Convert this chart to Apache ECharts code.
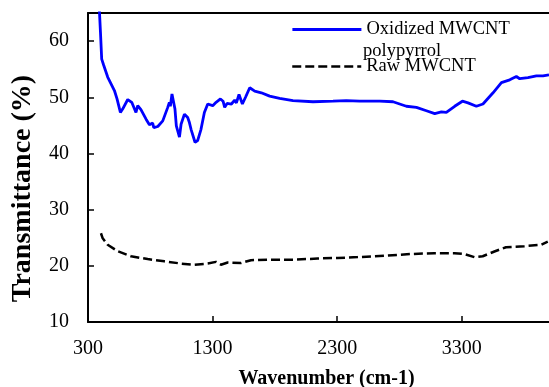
<!DOCTYPE html>
<html>
<head>
<meta charset="utf-8">
<script src="https://cdn.jsdelivr.net/npm/echarts@6/dist/echarts.min.js"></script>
<style>
  html, body { margin: 0; padding: 0; background: #fff; }
  #chart { width: 549px; height: 387px; }
</style>
</head>
<body>
<div id="chart"></div>
<script>
// FTIR spectra
const wavenumberOx = [388, 400, 410, 426, 458, 512, 533, 560, 578, 619, 651, 685, 699, 725, 766, 793, 819, 828, 860, 900,
  940, 953, 961, 974, 988, 998, 1009, 1020, 1034, 1047, 1074, 1100, 1114, 1127, 1141, 1159, 1180, 1207, 1234, 1261,
  1301, 1328, 1363, 1384, 1397, 1416, 1451, 1477, 1491, 1512, 1539, 1566, 1598, 1638, 1691, 1758, 1838, 1945, 2106, 2266,
  2373, 2480, 2641, 2748, 2855, 2936, 3016, 3083, 3136, 3176, 3243, 3305, 3350, 3417, 3470, 3551, 3618, 3685, 3738, 3765,
  3831, 3899, 3952, 4000];
const transmittanceOx = [67, 61.6, 56.8, 55.7, 53.6, 51.2, 49.7, 47.3, 47.9, 49.6, 49.1, 47.3, 48.5, 47.8, 46.1, 45.1, 45.4, 44.6, 44.8, 45.8,
  48.2, 49.1, 48.4, 50.6, 50.3, 47.9, 44.9, 45.2, 42.9, 45.2, 47.0, 46.4, 45.5, 44.3, 44.0, 42.0, 42.3, 44.3, 47.3, 48.8,
  48.5, 49.1, 49.7, 49.3, 48.2, 48.9, 48.8, 49.5, 49.0, 50.5, 48.8, 50.1, 51.7, 51.1, 50.8, 50.2, 49.8, 49.4, 49.2, 49.3,
  49.4, 49.3, 49.3, 49.2, 48.4, 48.2, 47.6, 47.1, 47.4, 47.3, 48.4, 49.3, 49.0, 48.4, 48.8, 50.8, 52.6, 53.1, 53.7, 53.3,
  53.5, 53.8, 53.8, 54.0];

const wavenumberRaw = [404, 418, 458, 538, 645, 779, 913, 1047, 1154, 1261, 1327, 1367, 1421, 1528, 1608, 1769, 1956, 2143,
  2304, 2465, 2679, 2892, 3080, 3241, 3321, 3401, 3468, 3562, 3655, 3803, 3936, 3990];
const transmittanceRaw = [25.8, 24.9, 23.75, 22.6, 21.7, 21.2, 20.8, 20.4, 20.2, 20.4, 20.7, 20.2, 20.6, 20.5, 21.0, 21.1, 21.1, 21.3,
  21.4, 21.55, 21.8, 22.1, 22.25, 22.25, 22.1, 21.55, 21.7, 22.55, 23.3, 23.5, 23.75, 24.3];

const seriesNames = ['Oxidized MWCNT polypyrrol', 'Raw MWCNT'];

const font = 'Liberation Serif';
const axisCommon = {
  axisLine: { lineStyle: { color: '#000', width: 2 } },
  axisTick: { inside: true, length: 6, lineStyle: { color: '#000', width: 1.5 } },
  splitLine: { show: false },
};
const legendCommon = {
  left: 286,
  itemWidth: 69,
  itemHeight: 12,
  itemGap: 0,
  itemStyle: { opacity: 0 },
  textStyle: { fontFamily: font, fontSize: 18.5, color: '#000' },
};

const chart = echarts.init(document.getElementById('chart'));
chart.setOption({
  animation: false,
  grid: { left: 88, right: 0, top: 13, bottom: 65, outerBoundsMode: 'none', containLabel: false },
  xAxis: [
    {
      ...axisCommon,
      type: 'value',
      min: 300,
      max: 4000,
      interval: 1000,
      axisLabel: {
        showMaxLabel: false, margin: 17, fontSize: 20, color: '#000', fontFamily: font,
        formatter: (v) => String(v),
      },
      name: 'Wavenumber (cm-1)',
      nameLocation: 'middle',
      nameGap: 47,
      nameTextStyle: { fontFamily: font, fontWeight: 'bold', fontSize: 20, color: '#000', padding: [0, 0, 0, 16] },
    },
    {
      type: 'value',
      position: 'top',
      min: 300,
      max: 4000,
      axisLine: { show: true, lineStyle: { color: '#000', width: 2 } },
      axisTick: { show: false },
      axisLabel: { show: false },
      splitLine: { show: false },
    },
  ],
  yAxis: {
    ...axisCommon,
    type: 'value',
    min: 10,
    max: 65,
    interval: 10,
    axisLabel: { showMaxLabel: false, margin: 19, fontSize: 20, color: '#000', fontFamily: font },
    name: 'Transmittance (%)',
    nameLocation: 'middle',
    nameGap: 51,
    nameTextStyle: { fontFamily: font, fontWeight: 'bold', fontSize: 28, color: '#000', padding: [0, 42, 0, 0] },
  },
  legend: [
    {
      ...legendCommon, data: [seriesNames[0]], top: 15, formatter: () => 'Oxidized MWCNT',
      lineStyle: { width: 2.8 },
    },
    { ...legendCommon, data: [seriesNames[1]], top: 52, lineStyle: { width: 2.5 } },
  ],
  graphic: [
    {
      type: 'text',
      left: 363,
      top: 42,
      style: { text: 'polypyrrol', font: '18.5px "Liberation Serif"', fill: '#000' },
    },
  ],
  series: [
    {
      name: seriesNames[0],
      type: 'line',
      symbol: 'none',
      data: wavenumberOx.map((x, i) => [x, transmittanceOx[i]]),
      lineStyle: { color: '#0000ff', width: 2.8 },
      itemStyle: { color: '#0000ff' },
    },
    {
      name: seriesNames[1],
      type: 'line',
      symbol: 'none',
      data: wavenumberRaw.map((x, i) => [x, transmittanceRaw[i]]),
      lineStyle: { color: '#000', width: 2.5, type: [9, 4] },
      itemStyle: { color: '#000' },
    },
  ],
});
</script>
</body>
</html>
